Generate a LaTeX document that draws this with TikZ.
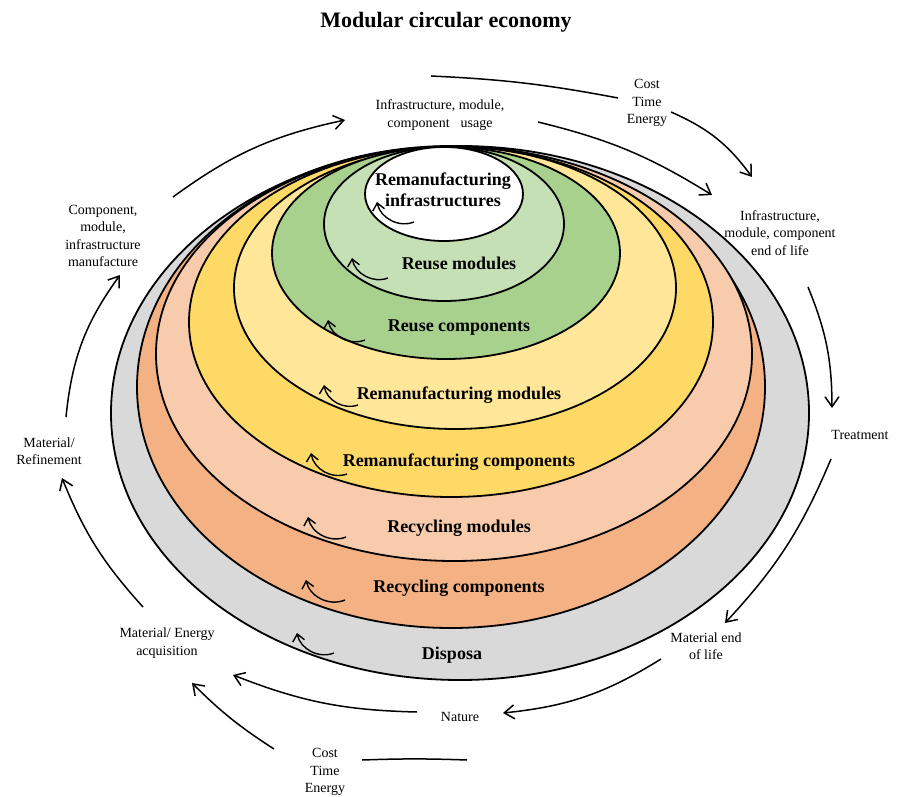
\documentclass[tikz,border=0pt]{standalone}
\usepackage{fontspec}
\setmainfont{Liberation Serif}
\usetikzlibrary{arrows.meta}

\definecolor{dispgray}{HTML}{D9D9D9}
\definecolor{recompfill}{HTML}{F4B183}
\definecolor{recmodfill}{HTML}{F8CBAD}
\definecolor{remcompfill}{HTML}{FFD966}
\definecolor{remmodfill}{HTML}{FFE699}
\definecolor{reucompfill}{HTML}{A9D18E}
\definecolor{reumodfill}{HTML}{C5E0B4}

\begin{document}
\begin{tikzpicture}[x=1pt, y=-1pt,
   ring/.style = {draw=black, line width=1.8pt},
   band/.style = {font=\fontsize{18}{21}\selectfont\bfseries, align=center, inner sep=1pt},
   stage/.style = {font=\fontsize{14}{17.5}\selectfont, align=center, inner sep=1pt},
   link/.style = {line width=1.5pt},
   flow/.style = {link, -{Straight Barb[length=10pt, width=14pt]}},
   curl/.style = {line width=1.4pt, -{Straight Barb[length=7pt, width=12pt]}, bend left=50}]
   \useasboundingbox (0,0) rectangle (897,797);

   % nested rings, outside in
   \draw[ring, fill=dispgray]    (460,413) ellipse [x radius=349, y radius=267];
   \draw[ring, fill=recompfill]  (451,387) ellipse [x radius=314, y radius=241];
   \draw[ring, fill=recmodfill]  (454,354) ellipse [x radius=298, y radius=207];
   \draw[ring, fill=remcompfill] (451,322) ellipse [x radius=262, y radius=175];
   \draw[ring, fill=remmodfill]  (455,288) ellipse [x radius=221, y radius=141];
   \draw[ring, fill=reucompfill] (446,253) ellipse [x radius=174, y radius=106];
   \draw[ring, fill=reumodfill]  (444,224) ellipse [x radius=120, y radius=77];
   \draw[ring, fill=white]       (444,194) ellipse [x radius=79, y radius=47];

   \node[font=\fontsize{22}{26}\selectfont\bfseries] (title) at (446,22) {Modular circular economy};

   \node[band] (infra)     at (443,190) {Remanufacturing\\infrastructures};
   \node[band] (reusemod)  at (459,263) {Reuse modules};
   \node[band] (reusecomp) at (459,328) {Reuse components};
   \node[band] (remanmod)  at (459,395) {Remanufacturing modules};
   \node[band] (remancomp) at (459,462) {Remanufacturing components};
   \node[band] (recmod)    at (459,528) {Recycling modules};
   \node[band] (reccomp)   at (459,588) {Recycling components};
   \node[band] (disposa)   at (452,655) {Disposa};

   \node[stage] (usage)     at (440,115) {Infrastructure, module,\\component\hspace{11pt}usage};
   \node[stage] (costtop)   at (647,103) {Cost\\Time\\Energy};
   \node[stage] (endlife)   at (780,233) {Infrastructure,\\module, component\\end of life};
   \node[stage] (treatment) at (860,435) {Treatment};
   \node[stage] (matend)    at (706,646) {Material end\\of life};
   \node[stage] (nature)    at (460,717) {Nature};
   \node[stage] (costbot)   at (325,772) {Cost\\Time\\Energy};
   \node[stage] (acq)       at (167,643) {Material/ Energy\\acquisition};
   \node[stage] (refine)    at (49,451)  {Material/\\Refinement};
   \node[stage] (manuf)     at (103,236) {Component,\\module,\\infrastructure\\manufacture};

   % small turning arrows in the rings
   \draw[curl] ([shift={(-29,32)}]infra.center)      to ([shift={(-66,12)}]infra.center);
   \draw[curl] ([shift={(-71,15)}]reusemod.center)   to ([shift={(-107,-5)}]reusemod.center);
   \draw[curl] ([shift={(-94,12)}]reusecomp.center)  to ([shift={(-131,-8)}]reusecomp.center);
   \draw[curl] ([shift={(-101,10)}]remanmod.center)  to ([shift={(-135,-10)}]remanmod.center);
   \draw[curl] ([shift={(-112,12)}]remancomp.center) to ([shift={(-148,-9)}]remancomp.center);
   \draw[curl] ([shift={(-113,9)}]recmod.center)     to ([shift={(-151,-11)}]recmod.center);
   \draw[curl] ([shift={(-114,12)}]reccomp.center)   to ([shift={(-153,-8)}]reccomp.center);
   \draw[curl] ([shift={(-118,-2)}]disposa.center)   to ([shift={(-155,-22)}]disposa.center);

   % outer cycle
   \draw[flow] ([shift={(17,-34)}]refine.center) to[bend left=15] ([shift={(17,39)}]manuf.center);
   \draw[flow] ([shift={(70,-39)}]manuf.center) to[bend left=12] ([shift={(-95,5)}]usage.center);
   \draw[link] ([shift={(-9,-39)}]usage.center) to[bend left=4] ([shift={(-29,-5)}]costtop.center);
   \draw[flow] ([shift={(24,9)}]costtop.center) to[bend left=15] ([shift={(-28,-56)}]endlife.center);
   \draw[flow] ([shift={(98,7)}]usage.center) to[bend left=9] ([shift={(-68,-38)}]endlife.center);
   \draw[flow] ([shift={(28,54)}]endlife.center) to[bend left=11] ([shift={(-28,-27)}]treatment.center);
   \draw[flow] ([shift={(-29,24)}]treatment.center) to[bend left=10] ([shift={(19,-23)}]matend.center);
   \draw[flow] ([shift={(-45,13)}]matend.center) to[bend left=13] ([shift={(43,-4)}]nature.center);
   \draw[flow] ([shift={(-43,-5)}]nature.center) to[bend left=10] ([shift={(66,32)}]acq.center);
   \draw[flow] ([shift={(-51,-23)}]costbot.center) to[bend left=6] ([shift={(25,40)}]acq.center);
   \draw[link] ([shift={(37,-12)}]costbot.center) to[bend left=2] ([shift={(142,-12)}]costbot.center);
   \draw[flow] ([shift={(-24,-36)}]acq.center) to[bend left=10] ([shift={(13,27)}]refine.center);

\end{tikzpicture}
\end{document}
